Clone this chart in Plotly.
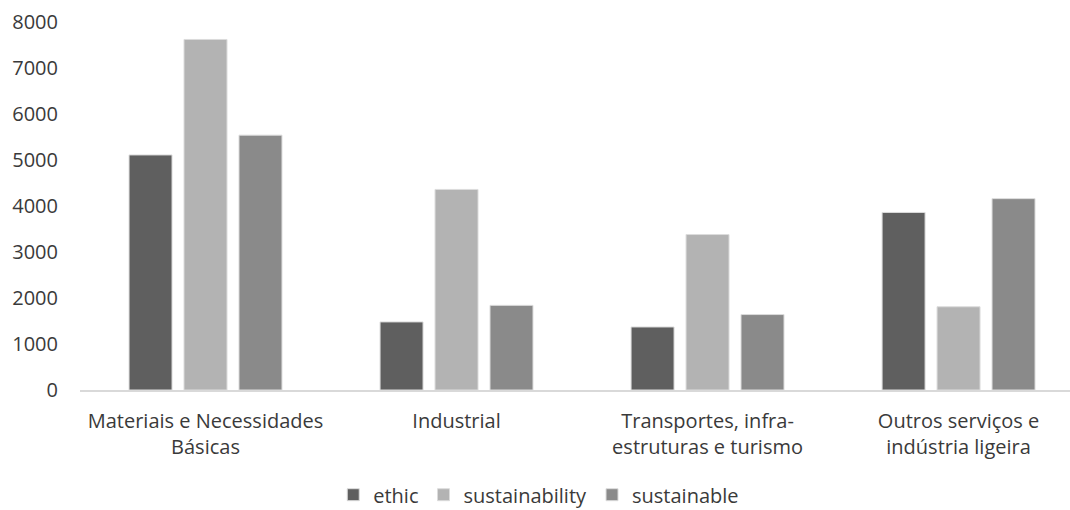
import plotly.graph_objects as go

categories = [
    "Materiais e Necessidades<br>Básicas",
    "Industrial",
    "Transportes, infra-<br>estruturas e turismo",
    "Outros serviços e<br>indústria ligeira",
]
ethic = [5110, 1480, 1370, 3860]
sustainability = [7620, 4360, 3380, 1810]
sustainable = [5540, 1840, 1640, 4160]

series_names = ["ethic", "sustainability", "sustainable"]
series_colors = ["#5f5f5f", "#b3b3b3", "#8a8a8a"]
y_ticks = [0, 1000, 2000, 3000, 4000, 5000, 6000, 7000, 8000]

FONT = "Open Sans"
TEXT_COLOR = "#3a3a3a"

fig = go.Figure()
for name, vals, col in zip(series_names, [ethic, sustainability, sustainable], series_colors):
    fig.add_trace(go.Bar(
        name=name,
        x=categories,
        y=vals,
        marker=dict(color=col, line=dict(color="#dcdcdc", width=1)),
    ))

fig.update_layout(
    width=1070,
    height=510,
    margin=dict(l=80, r=0, t=22, b=120),
    paper_bgcolor="white",
    plot_bgcolor="white",
    barmode="group",
    bargap=0.343,
    bargroupgap=0.218,
    font=dict(family=FONT, size=20, color=TEXT_COLOR),
    showlegend=True,
    legend=dict(
        orientation="h",
        xref="container",
        yref="container",
        x=0.5035,
        xanchor="center",
        y=0.03,
        yanchor="middle",
        font=dict(family=FONT, size=20, color=TEXT_COLOR),
        itemwidth=30,
    ),
)

fig.update_xaxes(
    type="category",
    range=[-0.5, 3.444],
    showline=True,
    linecolor="#d9d9d9",
    linewidth=2,
    showgrid=False,
    ticks="",
    automargin=False,
    ticklabelstandoff=12,
    tickfont=dict(family=FONT, size=20, color=TEXT_COLOR),
)
fig.update_yaxes(
    range=[0, 8000],
    tickvals=y_ticks,
    ticktext=[str(v) for v in y_ticks],
    showgrid=False,
    showline=False,
    zeroline=False,
    ticks="",
    automargin=False,
    ticklabelstandoff=21,
    tickfont=dict(family=FONT, size=20, color=TEXT_COLOR),
)

fig.write_html("out.html")
